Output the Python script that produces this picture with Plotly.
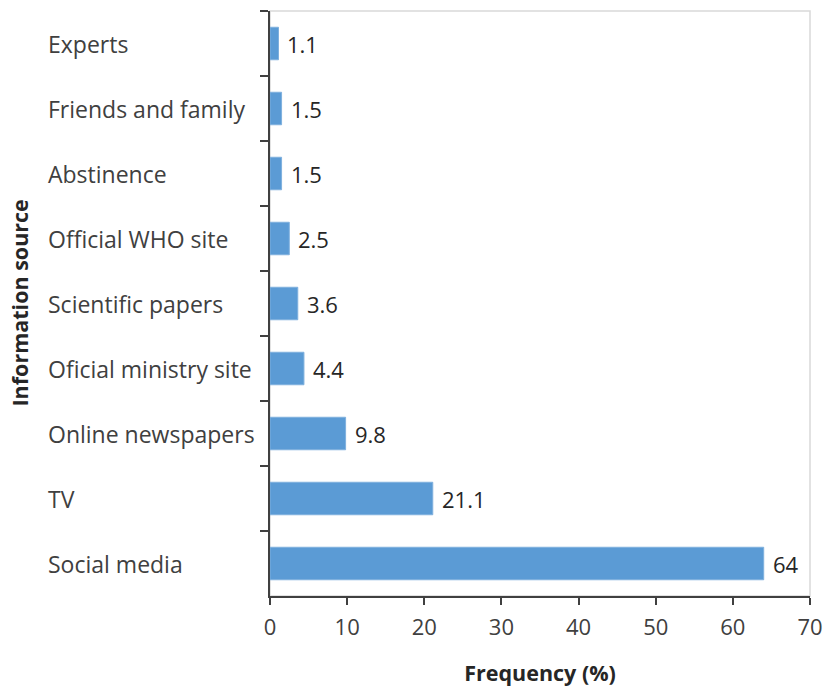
import plotly.graph_objects as go

categories = ["Experts", "Friends and family", "Abstinence", "Official WHO site",
              "Scientific papers", "Oficial ministry site", "Online newspapers",
              "TV", "Social media"]
values = [1.1, 1.5, 1.5, 2.5, 3.6, 4.4, 9.8, 21.1, 64]
x_ticks = [0, 10, 20, 30, 40, 50, 60, 70]

FONT = "'Open Sans', 'Noto Sans', sans-serif"
TXT = "#404040"
FS = 23
TFS = 21.5

fig = go.Figure(go.Bar(
    x=values, y=categories, orientation="h",
    marker=dict(color="#5B9BD5", line=dict(color="#7FB0DE", width=1)),
    cliponaxis=False, width=0.5,
))

L, R, T, B = 270, 17, 11, 93
W, H = 827, 689
pw = W - L - R

annotations = []
for c, v in zip(categories, values):
    annotations.append(dict(x=(46 - L) / pw, xref="paper", y=c, yref="y",
                            text=c, showarrow=False, xanchor="left",
                            font=dict(size=FS, color=TXT, family=FONT)))
    annotations.append(dict(x=v, xref="x", y=c, yref="y", text=f"{v:g}",
                            showarrow=False, xanchor="left", xshift=7,
                            font=dict(size=22, color="#262626", family=FONT)))
annotations.append(dict(x=(19 - L) / pw, xref="paper", y=0.5, yref="paper",
                        text="<b>Information source</b>", textangle=-90,
                        showarrow=False, xanchor="center", yanchor="middle",
                        font=dict(size=TFS, color="#262626", family=FONT)))

fig.update_layout(
    width=W, height=H, margin=dict(l=L, r=R, t=T, b=B, autoexpand=False),
    paper_bgcolor="white", plot_bgcolor="white",
    showlegend=False, annotations=annotations,
    font=dict(family=FONT, color=TXT),
    shapes=[dict(type="rect", xref="paper", yref="paper", x0=0, x1=1, y0=0, y1=1,
                 line=dict(color="#D9D9D9", width=1.5), layer="below")],
)
fig.update_xaxes(range=[0, 70], tickvals=x_ticks, showgrid=False, zeroline=False,
                 automargin=False,
                 showline=True, linecolor="#404040", linewidth=1.5,
                 ticks="outside", ticklen=7, tickcolor="#404040", tickwidth=1.5,
                 ticklabelstandoff=4,
                 tickfont=dict(size=22, color=TXT, family=FONT),
                 title=dict(text="<b>Frequency (%)</b>", standoff=26,
                            font=dict(size=TFS, color="#262626", family=FONT)))
fig.update_yaxes(autorange="reversed", showgrid=False, zeroline=False,
                 automargin=False,
                 showline=True, linecolor="#404040", linewidth=1.5,
                 ticks="outside", ticklen=8, tickcolor="#404040", tickwidth=1.5,
                 tickson="boundaries", showticklabels=False)

fig.write_html("out.html", config={"displayModeBar": False, "responsive": False},
               post_script="document.body.style.margin='0';document.body.style.overflow='hidden';")
